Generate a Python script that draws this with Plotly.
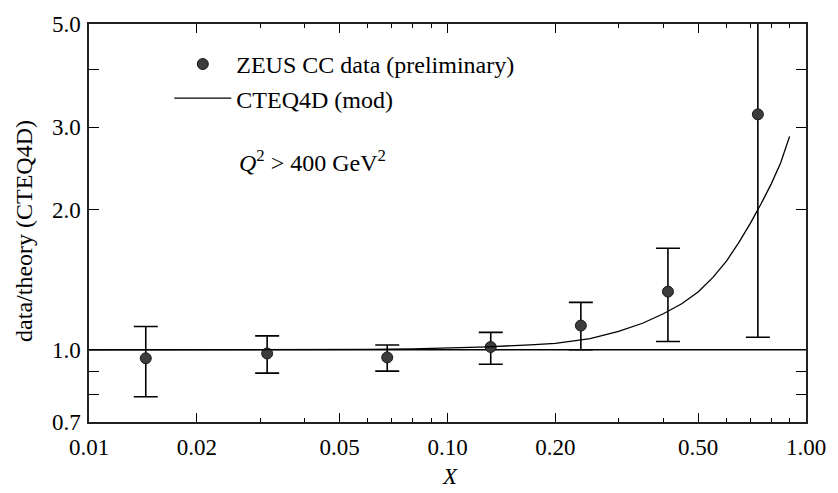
import numpy as np
import plotly.graph_objects as go

# ZEUS charged-current data / CTEQ4D ratio
x_data = [0.0144, 0.0314, 0.0679, 0.132, 0.2355, 0.412, 0.734]
ratio = [0.959, 0.982, 0.963, 1.014, 1.127, 1.333, 3.20]
ratio_high = [1.122, 1.071, 1.024, 1.090, 1.264, 1.652, 6.5]
ratio_low = [0.793, 0.891, 0.900, 0.931, 1.000, 1.042, 1.064]

# CTEQ4D (mod) curve relative to CTEQ4D
x_curve = [0.010, 0.020, 0.040, 0.060, 0.080, 0.100, 0.130, 0.170, 0.200,
           0.250, 0.300, 0.350, 0.400, 0.450, 0.500, 0.550, 0.600, 0.650,
           0.700, 0.750, 0.800, 0.850, 0.900]
y_curve = [1.000, 1.000, 1.000, 1.002, 1.005, 1.008, 1.015, 1.025, 1.032,
           1.057, 1.095, 1.140, 1.195, 1.255, 1.330, 1.430, 1.550, 1.700,
           1.870, 2.060, 2.270, 2.520, 2.870]

x_tickvals = [0.01, 0.02, 0.05, 0.1, 0.2, 0.5, 1.0]
x_ticktext = ["0.01", "0.02", "0.05", "0.10", "0.20", "0.50", "1.00"]
x_minor = [0.03, 0.04, 0.06, 0.07, 0.08, 0.09, 0.3, 0.4, 0.6, 0.7, 0.8, 0.9]
y_tickvals = [0.7, 1.0, 2.0, 3.0, 5.0]
y_ticktext = ["0.7", "1.0", "2.0", "3.0", "5.0"]
y_minor = [0.8, 0.9, 4.0]

FONT = "Liberation Serif"
err_plus = [h - v for h, v in zip(ratio_high, ratio)]
err_minus = [v - l for v, l in zip(ratio, ratio_low)]

fig = go.Figure()

fig.add_trace(go.Scatter(
    x=x_data, y=ratio, mode="markers",
    name="ZEUS CC data (preliminary)",
    marker=dict(size=11, color="#3c3c3c", line=dict(color="#1a1a1a", width=1)),
    error_y=dict(type="data", symmetric=False, array=err_plus,
                 arrayminus=err_minus, color="black", thickness=1.6, width=12),
))

fig.add_trace(go.Scatter(
    x=x_curve, y=y_curve, mode="lines", name="CTEQ4D (mod)",
    line=dict(color="black", width=1.3),
))

# unit ratio reference line
fig.add_hline(y=1.0, line=dict(color="black", width=1.5), layer="below")

axis_common = dict(
    type="log", showline=True, linecolor="#222", linewidth=1.5,
    mirror="allticks", ticks="inside", tickcolor="black", tickwidth=1.4,
    showgrid=False, zeroline=False,
    tickfont=dict(family=FONT, size=23, color="black"),
)

fig.update_xaxes(
    **axis_common, range=[-2, 0], tickmode="array",
    tickvals=x_tickvals, ticktext=x_ticktext, ticklen=9,
    ticklabelstandoff=4,
    minor=dict(tickmode="array", tickvals=x_minor, ticklen=4, ticks="inside",
               tickcolor="black", tickwidth=1.4, showgrid=False),
)
fig.update_yaxes(
    **axis_common, range=[np.log10(0.7), np.log10(5.0)], tickmode="array",
    tickvals=y_tickvals, ticktext=y_ticktext, ticklen=10,
    ticklabelstandoff=2,
    minor=dict(tickmode="array", tickvals=y_minor, ticklen=10, ticks="inside",
               tickcolor="black", tickwidth=1.4, showgrid=False),
)

fig.add_annotation(text="data/theory (CTEQ4D)", xref="paper", yref="paper",
                   x=-0.0907, y=0.48, textangle=-90, showarrow=False,
                   xanchor="center", yanchor="middle",
                   font=dict(family=FONT, size=24, color="black"))
fig.add_annotation(text="<i>X</i>", xref="paper", yref="paper",
                   x=0.503, y=-0.137, showarrow=False,
                   xanchor="center", yanchor="middle",
                   font=dict(family=FONT, size=23, color="black"))
fig.add_annotation(text="<i>Q</i><sup>2</sup> > 400 GeV<sup>2</sup>",
                   xref="paper", yref="paper", x=0.206, y=0.655,
                   showarrow=False, xanchor="left", yanchor="middle",
                   font=dict(family=FONT, size=24, color="black"))

fig.update_layout(
    width=838, height=493,
    margin=dict(l=89, r=21, t=14, b=71),
    paper_bgcolor="white", plot_bgcolor="white",
    showlegend=True,
    legend=dict(x=0.112, y=0.955, xanchor="left", yanchor="top",
                bgcolor="rgba(0,0,0,0)", borderwidth=0,
                font=dict(family=FONT, size=24, color="black"),
                itemwidth=57, tracegroupgap=0),
)

fig.write_html("out.html")
